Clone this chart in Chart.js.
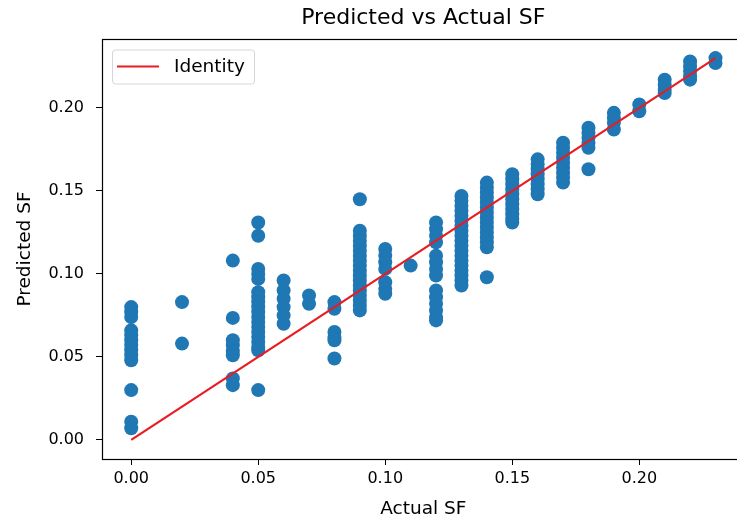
<!DOCTYPE html>
<html><head><meta charset="utf-8">
<script src="https://cdn.jsdelivr.net/npm/chart.js@4/dist/chart.umd.min.js"></script>
<style>
html,body{margin:0;padding:0;overflow:hidden;background:#fff;width:737px;height:521px}
#wrap{position:absolute;left:0;top:0;width:800px;height:521px}
</style></head><body>
<div id="wrap"><canvas id="c"></canvas></div>
<script>
// ---- data ----
const actualSF = [0.00, 0.02, 0.04, 0.05, 0.06, 0.07, 0.08, 0.09, 0.10, 0.11, 0.12, 0.13, 0.14, 0.15, 0.16, 0.17, 0.18, 0.19, 0.20, 0.21, 0.22, 0.23];
const predictedSF = [
  [0.080, 0.077, 0.074, 0.066, 0.063, 0.060, 0.057, 0.054, 0.051, 0.048, 0.030, 0.011, 0.007],
  [0.083, 0.058],
  [0.108, 0.0735, 0.060, 0.057, 0.0535, 0.051, 0.037, 0.033],
  [0.131, 0.123, 0.103, 0.100, 0.097, 0.089, 0.086, 0.083, 0.080, 0.077, 0.074, 0.071, 0.068, 0.065, 0.062, 0.059, 0.056, 0.054, 0.030],
  [0.096, 0.090, 0.085, 0.080, 0.075, 0.070],
  [0.087, 0.082],
  [0.083, 0.079, 0.065, 0.062, 0.060, 0.049],
  [0.145, 0.126, 0.123, 0.120, 0.117, 0.114, 0.111, 0.108, 0.105, 0.102, 0.099, 0.096, 0.093, 0.090, 0.087, 0.084, 0.081, 0.078],
  [0.115, 0.111, 0.107, 0.103, 0.095, 0.091, 0.088],
  [0.105],
  [0.131, 0.127, 0.123, 0.119, 0.111, 0.107, 0.103, 0.099, 0.090, 0.086, 0.082, 0.078, 0.074, 0.072],
  [0.147, 0.144, 0.141, 0.138, 0.135, 0.132, 0.129, 0.126, 0.123, 0.120, 0.117, 0.114, 0.111, 0.108, 0.105, 0.102, 0.099, 0.096, 0.093],
  [0.155, 0.152, 0.149, 0.146, 0.143, 0.140, 0.137, 0.134, 0.131, 0.128, 0.125, 0.122, 0.119, 0.116, 0.098],
  [0.160, 0.157, 0.154, 0.151, 0.148, 0.145, 0.142, 0.139, 0.136, 0.133, 0.131],
  [0.169, 0.166, 0.163, 0.160, 0.157, 0.154, 0.151, 0.148],
  [0.179, 0.176, 0.173, 0.170, 0.167, 0.164, 0.161, 0.158, 0.155],
  [0.188, 0.185, 0.182, 0.179, 0.176, 0.163],
  [0.197, 0.194, 0.191, 0.187],
  [0.202, 0.198],
  [0.217, 0.214, 0.211, 0.209],
  [0.228, 0.225, 0.222, 0.219, 0.217],
  [0.230, 0.227]
];
const identityX = [0, 0.23];
const identityY = [0, 0.23];
const tickValues = [0.00, 0.05, 0.10, 0.15, 0.20];
const axisMin = -0.0115, axisMax = 0.2415;
const chartTitle = 'Predicted vs Actual SF';

// ---- build datasets ----
const scatterPoints = [];
actualSF.forEach((x, i) => predictedSF[i].forEach(y => scatterPoints.push({x: x, y: y})));
const identityPoints = identityX.map((x, i) => ({x: x, y: identityY[i]}));

const FONT = "'DejaVu Sans', sans-serif";

const framePlugin = {
  id: 'frame',
  afterDatasetsDraw(chart) {
    const ctx = chart.ctx, a = chart.chartArea;
    ctx.save();
    ctx.strokeStyle = '#000';
    ctx.lineWidth = 1.2;
    ctx.strokeRect(Math.round(a.left) + 0.5, Math.round(a.top) + 0.5,
      Math.round(a.right - a.left), Math.round(a.bottom - a.top));
    ctx.restore();
  }
};

const titlePlugin = {
  id: 'axesTitle',
  afterDraw(chart) {
    const ctx = chart.ctx, a = chart.chartArea;
    ctx.save();
    ctx.fillStyle = '#000';
    ctx.font = '22px ' + FONT;
    ctx.textAlign = 'center';
    ctx.textBaseline = 'middle';
    ctx.fillText(chartTitle, (a.left + a.right) / 2, 18);
    ctx.restore();
  }
};

const legendPlugin = {
  id: 'insideLegend',
  afterDraw(chart) {
    const ds = chart.data.datasets[0];
    const ctx = chart.ctx, a = chart.chartArea;
    const x = a.left + 10, y = a.top + 10.5, w = 142, h = 34, r = 3;
    ctx.save();
    ctx.beginPath();
    ctx.roundRect(x + 0.5, y + 0.5, w, h, r);
    ctx.fillStyle = 'rgba(255,255,255,0.8)';
    ctx.fill();
    ctx.strokeStyle = '#d6d6d6';
    ctx.lineWidth = 1;
    ctx.stroke();
    ctx.beginPath();
    ctx.moveTo(x + 5, y + h / 2);
    ctx.lineTo(x + 47, y + h / 2);
    ctx.strokeStyle = ds.borderColor;
    ctx.lineWidth = 2.2;
    ctx.stroke();
    ctx.fillStyle = '#000';
    ctx.font = '18.5px ' + FONT;
    ctx.textBaseline = 'middle';
    ctx.textAlign = 'left';
    ctx.fillText(ds.label, x + 62, y + h / 2 + 1);
    ctx.restore();
  }
};

function fixedTicks(scale) {
  scale.ticks = tickValues.map(v => ({value: v}));
}

new Chart(document.getElementById('c'), {
  data: {
    datasets: [
      {
        type: 'line',
        label: 'Identity',
        data: identityPoints,
        borderColor: 'rgb(232,28,34)',
        borderWidth: 2.2,
        pointRadius: 0,
        fill: false,
        order: 0
      },
      {
        type: 'scatter',
        label: 'Predicted',
        data: scatterPoints,
        backgroundColor: '#1f77b4',
        borderWidth: 0,
        pointRadius: 7,
        pointHoverRadius: 7,
        order: 1
      }
    ]
  },
  options: {
    responsive: true,
    maintainAspectRatio: false,
    animation: false,
    events: [],
    layout: {padding: {left: 0, right: 55.3, top: 39, bottom: 0}},
    plugins: {
      legend: {display: false},
      tooltip: {enabled: false},
      title: {display: false}
    },
    scales: {
      x: {
        type: 'linear',
        position: 'bottom',
        min: axisMin, max: axisMax,
        afterBuildTicks: fixedTicks,
        afterFit(s) { s.height = 62; },
        grid: {drawOnChartArea: false, drawTicks: true, tickLength: 6, color: '#000', tickWidth: 1},
        border: {display: false},
        ticks: {
          includeBounds: false,
          color: '#000',
          padding: 4,
          maxRotation: 0,
          font: {family: FONT, size: 16},
          callback: v => Number(v).toFixed(2)
        },
        title: {
          display: true, text: 'Actual SF', color: '#000',
          font: {family: FONT, size: 18.5}, padding: {top: 0, bottom: 1}
        }
      },
      y: {
        type: 'linear',
        position: 'left',
        min: axisMin, max: axisMax,
        afterBuildTicks: fixedTicks,
        afterFit(s) { s.width = 102; },
        grid: {drawOnChartArea: false, drawTicks: true, tickLength: 6, color: '#000', tickWidth: 1},
        border: {display: false},
        ticks: {
          includeBounds: false,
          color: '#000',
          padding: 12,
          font: {family: FONT, size: 16},
          callback: v => Number(v).toFixed(2)
        },
        title: {
          display: true, text: 'Predicted SF', color: '#000',
          font: {family: FONT, size: 18.5}, padding: {top: 14, bottom: 0}
        }
      }
    }
  },
  plugins: [framePlugin, titlePlugin, legendPlugin]
});
</script>
</body></html>
